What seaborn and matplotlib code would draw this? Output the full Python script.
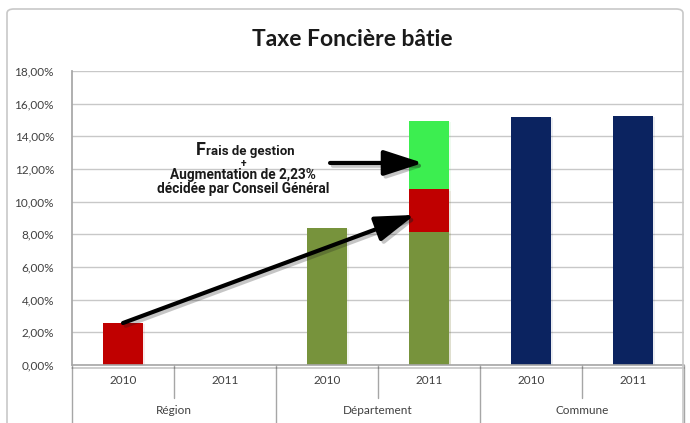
import matplotlib
matplotlib.use("Agg")
import matplotlib.pyplot as plt
import matplotlib.patheffects as pe
from matplotlib.patches import FancyBboxPatch
import numpy as np
import pandas as pd
import seaborn as sns

# ---- data -------------------------------------------------------------
groups = ["Région", "Département", "Commune"]
years = ["2010", "2011"]
base_rate = [2.6, 0.0, 8.4, 8.15, 15.2, 15.25]      # taux (%)
transfer = [0.0, 0.0, 0.0, 2.6, 0.0, 0.0]         # part régionale transférée
fees = [0.0, 0.0, 0.0, 4.2, 0.0, 0.0]             # frais de gestion + hausse
base_colors = ["#c00000", "#c00000", "#77933c", "#77933c", "#0b2360", "#0b2360"]
transfer_color = "#c00000"
fees_color = "#3cee50"
y_ticks = [0, 2, 4, 6, 8, 10, 12, 14, 16, 18]

keys = [f"{g} {y}" for g in groups for y in years]

sns.set_theme(style="white")
plt.rcParams["font.family"] = ["Lato", "DejaVu Sans"]

W, H = 690, 423
fig = plt.figure(figsize=(W / 100, H / 100), dpi=100)
ax = fig.add_axes([72 / W, (H - 365) / H, 612 / W, 294 / H])

# stacked layers drawn from the highest cumulative top down
cum1 = np.array(base_rate)
cum2 = cum1 + np.array(transfer)
cum3 = cum2 + np.array(fees)
layers = [
    (cum3, [fees_color] * 6, np.array(fees) > 0),
    (cum2, [transfer_color] * 6, np.array(transfer) > 0),
    (cum1, base_colors, np.array(base_rate) > 0),
]
shadow = [pe.SimplePatchShadow(offset=(1.5, -1), alpha=0.08, rho=0.9), pe.Normal()]
for tops, cols, mask in layers:
    df = pd.DataFrame({"key": keys, "top": tops, "col": cols})[mask]
    n_before = len(ax.patches)
    sns.barplot(data=df, x="key", y="top", hue="key", order=keys,
                palette=dict(zip(df["key"], df["col"])), width=0.4,
                saturation=1, legend=False, ax=ax, linewidth=0)
    for p in ax.patches[n_before:]:
        p.set_path_effects(shadow)

ax.set_xlim(-0.5, 5.5)
ax.set_ylim(0, 18)
ax.set_yticks(y_ticks)
ax.set_yticklabels([f"{v:.2f}".replace(".", ",") + "%" for v in y_ticks])
ax.set_xlabel("")
ax.set_ylabel("")
ax.set_xticks([])
ax.grid(axis="y", color="#c8c8c8", lw=1)
ax.set_axisbelow(True)
for s in ["top", "right", "bottom"]:
    ax.spines[s].set_visible(False)
ax.spines["left"].set_color("#a6a6a6")
ax.tick_params(axis="y", length=5, width=1, color="#a6a6a6", direction="out",
               labelsize=8.5, labelcolor="#404040", pad=8)

# base line of the category axis with a soft shadow
ax.axhline(0, color="#a6a6a6", lw=1.2, zorder=5, clip_on=False,
           path_effects=[pe.SimpleLineShadow(offset=(0, -2), alpha=0.25), pe.Normal()])

# two-level category axis
tr = ax.get_xaxis_transform()
for b in np.arange(-0.5, 6, 1.0):
    is_group = (b + 0.5) % 2 == 0
    y_end = -0.197 if is_group else -0.112
    ax.plot([b, b], [0, y_end], transform=tr, color="#a6a6a6", lw=1, clip_on=False)
for i, k in enumerate(keys):
    ax.text(i, -0.054, years[i % 2], transform=tr, ha="center", va="center",
            fontsize=8.5, color="#404040")
for j, g in enumerate(groups):
    ax.text(2 * j + 0.5, -0.156, g, transform=tr, ha="center", va="center",
            fontsize=8.5, color="#404040")

# chart frame
fig.patches.append(FancyBboxPatch((7 / W, -0.05), 676 / W, (H - 9) / H + 0.05,
                                  boxstyle="round,pad=0,rounding_size=0.01",
                                  transform=fig.transFigure, fill=False,
                                  edgecolor="#c8c8c8", lw=1.2))

fig.text(352 / W, 1 - 40 / H, "Taxe Foncière bâtie", ha="center", va="center",
         fontsize=16.5, fontweight="bold", color="#1a1a1a")

# annotation text
note_font = dict(family=["Roboto", "DejaVu Sans"], fontweight="bold", color="#1a1a1a")
ax.text(0.81, 12.85, "F", ha="right", va="baseline", fontsize=13, **note_font)
ax.text(0.81, 12.85, "rais de gestion", ha="left", va="baseline", fontsize=9.5, **note_font)
ax.text(1.18, 12.3, "+", ha="center", va="center", fontsize=7.5, **note_font)
ax.text(1.18, 11.63, "Augmentation de 2,23%", ha="center", va="center", fontsize=9.8, **note_font)
ax.text(1.18, 10.78, "décidée par Conseil Général", ha="center", va="center", fontsize=9.8, **note_font)

arrow_fx = [pe.SimpleLineShadow(offset=(2, -2), alpha=0.25), pe.Normal()]
arrow_kw = dict(arrowstyle="-|>,head_length=2.0,head_width=0.65", color="black",
                lw=3, shrinkA=0, shrinkB=0)
ax.annotate("", xy=(2.94, 12.37), xytext=(2.03, 12.37),
            arrowprops=dict(**arrow_kw, path_effects=arrow_fx))
ax.annotate("", xy=(2.86, 9.19), xytext=(0.0, 2.57),
            arrowprops=dict(**arrow_kw, path_effects=arrow_fx))

fig.savefig("out.png", dpi=100)
